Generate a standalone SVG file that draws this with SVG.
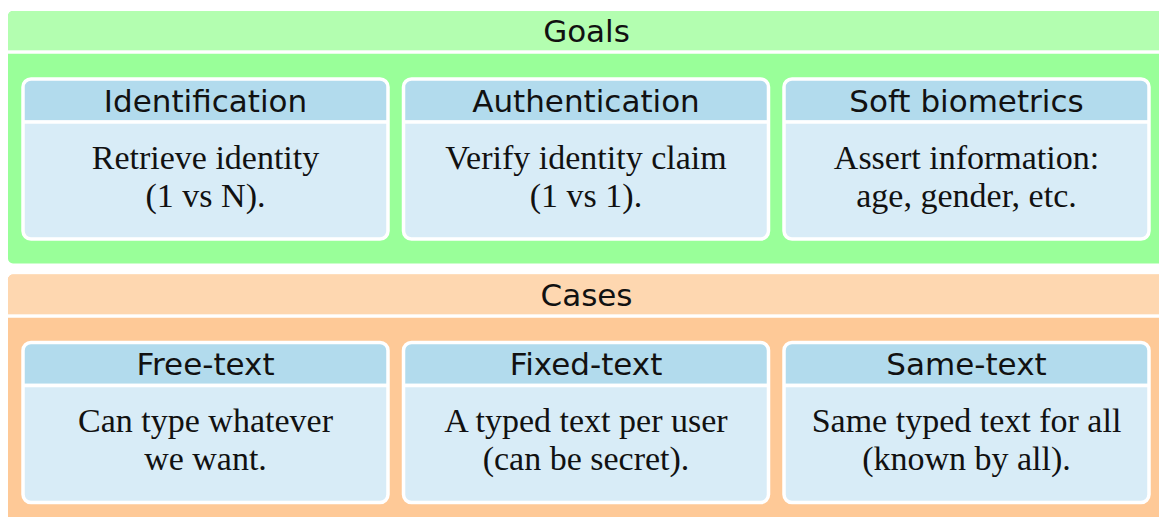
<svg xmlns="http://www.w3.org/2000/svg" width="1159" height="517" viewBox="0 0 1159 517">
<style>
.title{font-family:"DejaVu Sans",sans-serif;font-size:31px;fill:#111;text-anchor:middle}
.body{font-family:"Liberation Serif",serif;font-size:34px;fill:#111;text-anchor:middle}
.nbody{fill:#d8ecf7}
.nhead{fill:#b2dbed}
.sep{stroke:#fff;stroke-width:3.5}
.border{fill:none;stroke:#fff;stroke-width:3.5}
</style>
<rect width="1159" height="517" fill="#fff"/>
<g id="goals">
  <rect x="8" y="11" width="1170" height="252.5" rx="5" fill="#99ff99"/>
  <path d="M8,50 V16 A5,5 0 0 1 13,11 H1178 V50 Z" fill="#b3feb0"/>
  <line x1="8" y1="52" x2="1178" y2="52" class="sep" stroke-width="4"/>
  <text class="title" x="586.5" y="42">Goals</text>
</g>
<g id="cases">
  <rect x="8" y="274.5" width="1170" height="260" rx="5" fill="#fec997"/>
  <path d="M8,314 V279.5 A5,5 0 0 1 13,274.5 H1178 V314 Z" fill="#fed7b0"/>
  <line x1="8" y1="316" x2="1178" y2="316" class="sep" stroke-width="4"/>
  <text class="title" x="586.5" y="305.5">Cases</text>
</g>
<g id="identification">
  <rect class="nbody" x="23" y="79" width="365" height="160" rx="8"/>
  <path class="nhead" d="M23,120 V87 A8,8 0 0 1 31,79 H380 A8,8 0 0 1 388,87 V120 Z"/>
  <line class="sep" x1="23" y1="122" x2="388" y2="122"/>
  <rect class="border" x="23" y="79" width="365" height="160" rx="8"/>
  <text class="title" x="205.5" y="112">Identification</text>
  <text class="body" x="205.5" y="169">Retrieve identity</text>
  <text class="body" x="205.5" y="207">(1 vs N).</text>
</g>
<g id="authentication">
  <rect class="nbody" x="403.5" y="79" width="365" height="160" rx="8"/>
  <path class="nhead" d="M403.5,120 V87 A8,8 0 0 1 411.5,79 H760.5 A8,8 0 0 1 768.5,87 V120 Z"/>
  <line class="sep" x1="403.5" y1="122" x2="768.5" y2="122"/>
  <rect class="border" x="403.5" y="79" width="365" height="160" rx="8"/>
  <text class="title" x="586" y="112">Authentication</text>
  <text class="body" x="586" y="169">Verify identity claim</text>
  <text class="body" x="586" y="207">(1 vs 1).</text>
</g>
<g id="soft-biometrics">
  <rect class="nbody" x="784" y="79" width="365" height="160" rx="8"/>
  <path class="nhead" d="M784,120 V87 A8,8 0 0 1 792,79 H1141 A8,8 0 0 1 1149,87 V120 Z"/>
  <line class="sep" x1="784" y1="122" x2="1149" y2="122"/>
  <rect class="border" x="784" y="79" width="365" height="160" rx="8"/>
  <text class="title" x="966.5" y="112">Soft biometrics</text>
  <text class="body" x="966.5" y="169">Assert information:</text>
  <text class="body" x="966.5" y="207">age, gender, etc.</text>
</g>
<g id="free-text">
  <rect class="nbody" x="23" y="342.5" width="365" height="160" rx="8"/>
  <path class="nhead" d="M23,383.5 V350.5 A8,8 0 0 1 31,342.5 H380 A8,8 0 0 1 388,350.5 V383.5 Z"/>
  <line class="sep" x1="23" y1="385.5" x2="388" y2="385.5"/>
  <rect class="border" x="23" y="342.5" width="365" height="160" rx="8"/>
  <text class="title" x="205.5" y="375">Free-text</text>
  <text class="body" x="205.5" y="432">Can type whatever</text>
  <text class="body" x="205.5" y="470">we want.</text>
</g>
<g id="fixed-text">
  <rect class="nbody" x="403.5" y="342.5" width="365" height="160" rx="8"/>
  <path class="nhead" d="M403.5,383.5 V350.5 A8,8 0 0 1 411.5,342.5 H760.5 A8,8 0 0 1 768.5,350.5 V383.5 Z"/>
  <line class="sep" x1="403.5" y1="385.5" x2="768.5" y2="385.5"/>
  <rect class="border" x="403.5" y="342.5" width="365" height="160" rx="8"/>
  <text class="title" x="586" y="375">Fixed-text</text>
  <text class="body" x="586" y="432">A typed text per user</text>
  <text class="body" x="586" y="470">(can be secret).</text>
</g>
<g id="same-text">
  <rect class="nbody" x="784" y="342.5" width="365" height="160" rx="8"/>
  <path class="nhead" d="M784,383.5 V350.5 A8,8 0 0 1 792,342.5 H1141 A8,8 0 0 1 1149,350.5 V383.5 Z"/>
  <line class="sep" x1="784" y1="385.5" x2="1149" y2="385.5"/>
  <rect class="border" x="784" y="342.5" width="365" height="160" rx="8"/>
  <text class="title" x="966.5" y="375">Same-text</text>
  <text class="body" x="966.5" y="432">Same typed text for all</text>
  <text class="body" x="966.5" y="470">(known by all).</text>
</g>
<g id="connectors"></g>
</svg>
